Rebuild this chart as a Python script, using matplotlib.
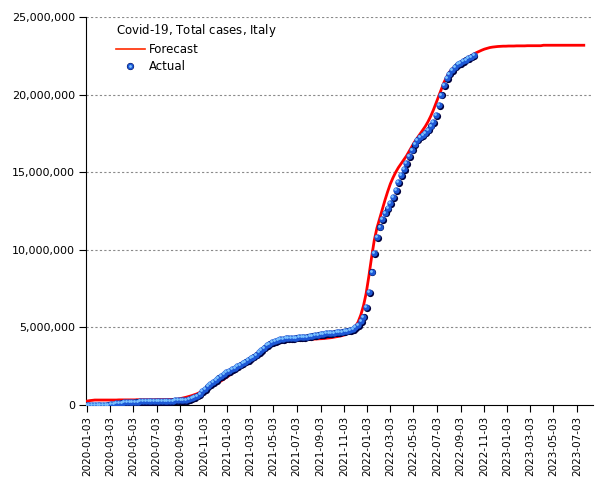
import numpy as np
import pandas as pd
import matplotlib
matplotlib.use("Agg")
import matplotlib.pyplot as plt
import matplotlib.dates as mdates
import matplotlib.transforms as mtransforms
from matplotlib.lines import Line2D
from matplotlib.ticker import FuncFormatter
from matplotlib.legend_handler import HandlerTuple

# %% Data (millions of cases, one value per week)
actual_start = "2020-01-03"
actual_cases = [
    0.0, 0.0, 0.0, 0.0, 0.0, 0.0, 0.0, 0.01, 0.02, 0.05,
    0.08, 0.11, 0.14, 0.16, 0.18, 0.19, 0.20, 0.21, 0.22, 0.225,
    0.23, 0.235, 0.24, 0.24, 0.245, 0.25, 0.25, 0.255, 0.26, 0.265,
    0.27, 0.275, 0.28, 0.29, 0.30, 0.31, 0.32, 0.34, 0.37, 0.42,
    0.50, 0.60, 0.72, 0.87, 1.03, 1.20, 1.36, 1.50, 1.63, 1.76,
    1.88, 1.99, 2.10, 2.20, 2.30, 2.40, 2.50, 2.60, 2.70, 2.80,
    2.90, 3.00, 3.12, 3.25, 3.40, 3.55, 3.70, 3.84, 3.96, 4.06,
    4.13, 4.19, 4.24, 4.27, 4.29, 4.31, 4.32, 4.33, 4.34, 4.35,
    4.37, 4.39, 4.41, 4.44, 4.47, 4.50, 4.53, 4.56, 4.59, 4.61,
    4.63, 4.65, 4.67, 4.69, 4.71, 4.73, 4.76, 4.79, 4.83, 4.90,
    5.00, 5.15, 5.40, 5.70, 6.30, 7.30, 8.60, 9.80, 10.8, 11.5,
    12.0, 12.4, 12.7, 13.0, 13.4, 13.85, 14.35, 14.8, 15.2, 15.6,
    16.05, 16.45, 16.8, 17.1, 17.3, 17.4, 17.55, 17.75, 18.0, 18.25,
    18.7, 19.3, 20.0, 20.6, 21.05, 21.35, 21.6, 21.8, 21.95, 22.05,
    22.15, 22.25, 22.35, 22.45, 22.55,
]

forecast_start = "2020-01-03"
forecast_cases = [
    0.25, 0.28, 0.30, 0.32, 0.32, 0.32, 0.32, 0.32, 0.32, 0.32,
    0.32, 0.32, 0.33, 0.33, 0.33, 0.33, 0.33, 0.33, 0.33, 0.34,
    0.34, 0.34, 0.34, 0.34, 0.34, 0.34, 0.35, 0.35, 0.35, 0.35,
    0.35, 0.36, 0.36, 0.36, 0.38, 0.42, 0.46, 0.50, 0.55, 0.60,
    0.66, 0.72, 0.80, 0.88, 0.96, 1.05, 1.14, 1.23, 1.33, 1.44,
    1.55, 1.66, 1.78, 1.90, 2.03, 2.16, 2.30, 2.44, 2.58, 2.72,
    2.86, 3.00, 3.14, 3.28, 3.42, 3.56, 3.69, 3.80, 3.90, 3.98,
    4.04, 4.08, 4.11, 4.13, 4.14, 4.15, 4.16, 4.17, 4.18, 4.19,
    4.20, 4.21, 4.22, 4.23, 4.24, 4.25, 4.26, 4.27, 4.28, 4.30,
    4.32, 4.34, 4.37, 4.40, 4.43, 4.47, 4.52, 4.60, 4.70, 4.85,
    5.05, 5.35, 5.80, 6.40, 7.20, 8.30, 9.50, 10.6, 11.4, 12.0,
    12.6, 13.2, 13.75, 14.25, 14.65, 15.0, 15.3, 15.55, 15.8, 16.05,
    16.35, 16.65, 16.95, 17.2, 17.45, 17.7, 17.95, 18.25, 18.6, 19.0,
    19.45, 19.9, 20.35, 20.8, 21.15, 21.45, 21.65, 21.8, 21.95, 22.08,
    22.2, 22.3, 22.4, 22.5, 22.6, 22.7, 22.78, 22.86, 22.93, 22.98,
    23.03, 23.06, 23.08, 23.10, 23.11, 23.12, 23.12, 23.13, 23.13, 23.13,
    23.14, 23.14, 23.14, 23.14, 23.15, 23.15, 23.15, 23.15, 23.15, 23.15,
    23.18, 23.18, 23.18, 23.18, 23.18, 23.18, 23.18, 23.18, 23.18, 23.18,
    23.18, 23.18, 23.18, 23.18, 23.18, 23.18,
]

legend_title = r"Covid-$\mathrm{19}$, Total cases, Italy"

# %% Plot
plt.rcParams["font.family"] = "DejaVu Sans"
plt.rcParams["mathtext.fontset"] = "dejavuserif"

actual_dates = pd.date_range(actual_start, periods=len(actual_cases), freq="7D")
forecast_dates = pd.date_range(forecast_start, periods=len(forecast_cases), freq="7D")
actual = np.array(actual_cases) * 1e6
forecast = np.array(forecast_cases) * 1e6

fig = plt.figure(figsize=(6.05, 4.8), dpi=100)
ax = fig.add_axes([86 / 605, 1 - 405 / 480, (593 - 86) / 605, (405 - 17) / 480])

# grid lines
for v in range(5_000_000, 25_000_001, 5_000_000):
    ax.axhline(v, color="#8a8a8a", lw=0.8, ls=(0, (2, 2)), zorder=0)

ax.plot(forecast_dates, forecast, color="#ff0000", lw=2, zorder=3)

# shaded "sphere" markers made of three layers
shadow = mtransforms.offset_copy(ax.transData, fig=fig, x=0.8, y=-0.8, units="dots")
shine = mtransforms.offset_copy(ax.transData, fig=fig, x=-1.0, y=1.0, units="dots")
m_dark, = ax.plot(actual_dates, actual, ls="none", marker="o", ms=5.2,
                  mfc="#00003c", mec="none", transform=shadow, zorder=4)
m_mid, = ax.plot(actual_dates, actual, ls="none", marker="o", ms=4.6,
                 mfc="#1d58d6", mec="none", zorder=5)
m_lite, = ax.plot(actual_dates, actual, ls="none", marker="o", ms=2.0,
                  mfc="#7cc4ff", mec="none", transform=shine, zorder=6)

ax.set_ylim(0, 25_000_000)
ax.set_xlim(pd.Timestamp("2020-01-01"), pd.Timestamp("2023-08-14"))
ax.set_yticks(range(0, 25_000_001, 5_000_000))
ax.yaxis.set_major_formatter(FuncFormatter(lambda v, p: f"{v:,.0f}"))
ax.xaxis.set_major_locator(mdates.MonthLocator(bymonth=[1, 3, 5, 7, 9, 11], bymonthday=3))
ax.xaxis.set_major_formatter(mdates.DateFormatter("%Y-%m-%d"))
ax.tick_params(axis="x", labelrotation=90, labelsize=7.5, length=5, pad=3)
ax.tick_params(axis="y", labelsize=8, length=5, pad=3)

ax.spines["top"].set_visible(False)
ax.spines["right"].set_visible(False)

fc_handle = Line2D([], [], color="#ff2a00", lw=1.2)
leg = ax.legend([fc_handle, (m_dark, m_mid, m_lite)], ["Forecast", "Actual"],
                handler_map={tuple: HandlerTuple(ndivide=1, pad=0)},
                numpoints=1, title=legend_title, alignment="left", frameon=False,
                loc="upper left", bbox_to_anchor=(0.049, 1.0),
                fontsize=8.5, title_fontsize=8.5, handlelength=2.5,
                handletextpad=0.3, labelspacing=0.35, borderaxespad=0)

fig.savefig("out.png", dpi=100)
